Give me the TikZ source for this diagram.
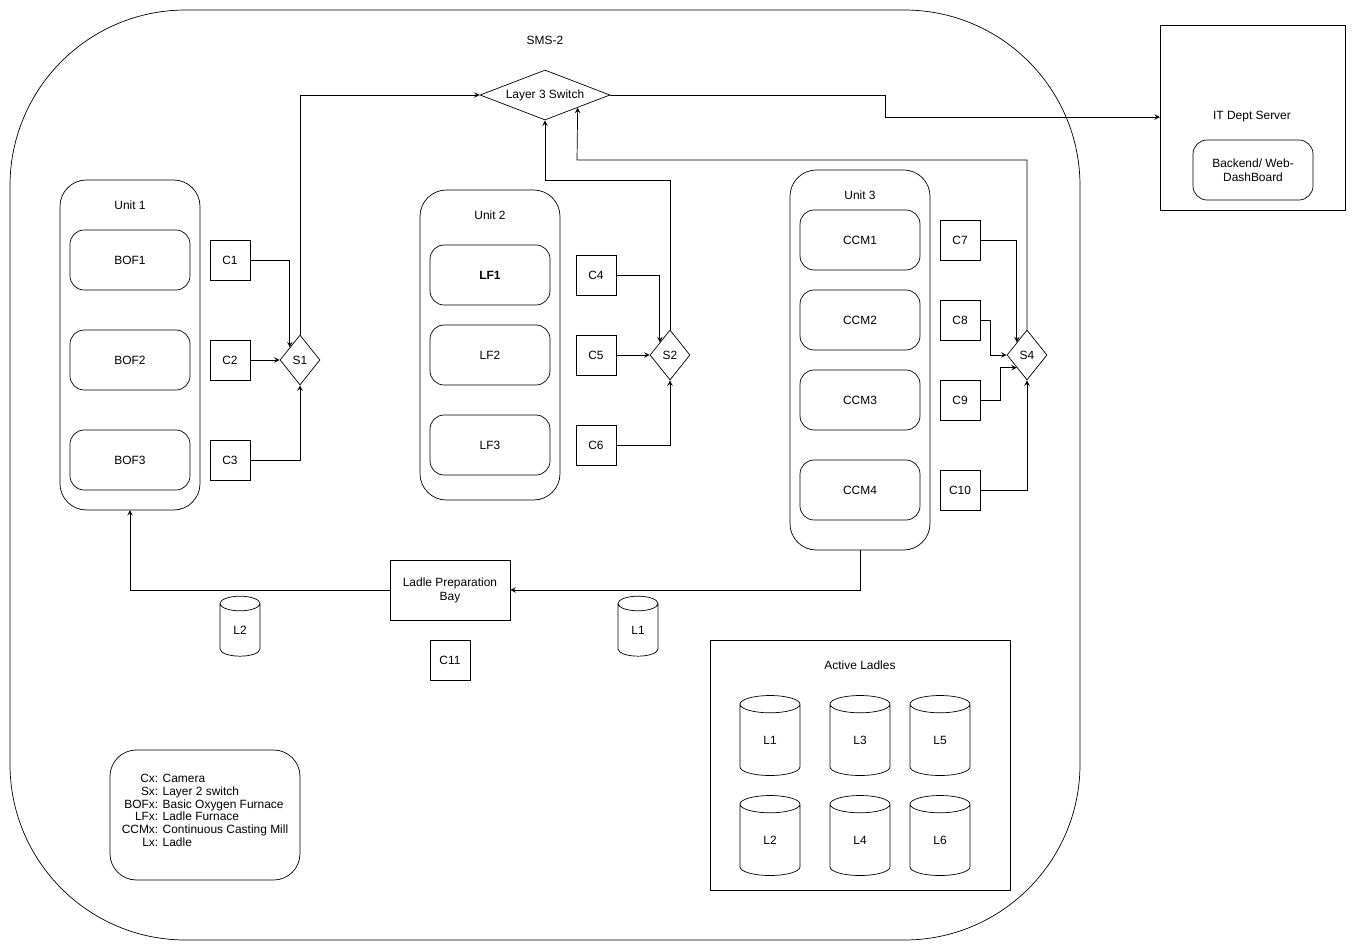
\documentclass[tikz,border=0pt]{standalone}
\usepackage{fontspec}
\setmainfont{Liberation Sans}
\usetikzlibrary{shapes.geometric}

\tikzset{
  box/.style={draw, rounded corners=8, minimum width=2.4cm, minimum height=1.2cm, align=center},
  cam/.style={draw, minimum width=0.8cm, minimum height=0.8cm},
  sw/.style={draw, diamond, minimum width=0.8cm, minimum height=1cm, inner sep=0pt},
  ladle/.style={draw, cylinder, shape border rotate=90, aspect=1.3, minimum width=1.2cm, minimum height=1.6cm, inner sep=0pt},
  ladles/.style={ladle, minimum width=0.8cm, minimum height=1.2cm, aspect=1.1},
  conn/.style={->, >=stealth},
}

\begin{document}
\begin{tikzpicture}[x=0.02cm, y=-0.02cm, font=\fontsize{6.8}{8}\selectfont]
\useasboundingbox (0,0) rectangle (1356,951);

% plant outline
\draw[rounded corners=100] (10,10) rectangle (1080,940);
\node at (545,40) {SMS-2};
\node[sw, minimum width=2.6cm, aspect=2.6] (L3S) at (545,95) {Layer 3 Switch};

% server
\draw (1160,25) rectangle (1345,210);
\node (server) at (1252,117) {IT Dept Server};
\coordinate (serverW) at (1160,117);
\node[box, minimum width=2.4cm] (backend) at (1253,170) {Backend/ Web-\\DashBoard};

% unit 1
\draw[rounded corners=15] (60,180) rectangle (200,510);
\coordinate (unit1S) at (130,510);
\node at (130,205) {Unit 1};
\node[box] (bof1) at (130,260) {BOF1};
\node[box] (bof2) at (130,360) {BOF2};
\node[box] (bof3) at (130,460) {BOF3};
\node[cam] (c1) at (230,260) {C1};
\node[cam] (c2) at (230,360) {C2};
\node[cam] (c3) at (230,460) {C3};
\node[sw] (s1) at (300,360) {S1};

% unit 2
\draw[rounded corners=15] (420,190) rectangle (560,500);
\node at (490,215) {Unit 2};
\node[box, font=\fontsize{6.8}{8}\selectfont\bfseries] (lf1) at (490,275) {LF1};
\node[box] (lf2) at (490,355) {LF2};
\node[box] (lf3) at (490,445) {LF3};
\node[cam] (c4) at (596,275) {C4};
\node[cam] (c5) at (596,355) {C5};
\node[cam] (c6) at (596,445) {C6};
\node[sw] (s2) at (670,355) {S2};

% unit 3
\draw[rounded corners=15] (790,170) rectangle (930,550);
\coordinate (unit3S) at (860,550);
\node at (860,195) {Unit 3};
\node[box] (ccm1) at (860,240) {CCM1};
\node[box] (ccm2) at (860,320) {CCM2};
\node[box] (ccm3) at (860,400) {CCM3};
\node[box] (ccm4) at (860,490) {CCM4};
\node[cam] (c7) at (960,240) {C7};
\node[cam] (c8) at (960,320) {C8};
\node[cam] (c9) at (960,400) {C9};
\node[cam] (c10) at (960,490) {C10};
\node[sw] (s4) at (1027,355) {S4};

% ladle bay
\node[draw, minimum width=2.4cm, minimum height=1.2cm, align=center] (bay) at (450,590) {Ladle Preparation\\Bay};
\node[cam] (c11) at (450,660) {C11};
\node[ladles] (l2a) at (240,630) {L2};
\node[ladles] (l1a) at (638,630) {L1};

% active ladles
\draw (710,640) rectangle (1010,890);
\node at (860,665) {Active Ladles};
\node[ladle] (l1) at (770,740) {L1};
\node[ladle] (l3) at (860,740) {L3};
\node[ladle] (l5) at (940,740) {L5};
\node[ladle] (l2) at (770,840) {L2};
\node[ladle] (l4) at (860,840) {L4};
\node[ladle] (l6) at (940,840) {L6};

% legend
\draw[rounded corners=15] (110,750) rectangle (300,880);
\node (legend) at (205,812) {\fontsize{6.8}{7.2}\selectfont\begin{tabular}{@{}r@{ }l@{}}
Cx: & Camera\\ Sx: & Layer 2 switch\\ BOFx: & Basic Oxygen Furnace\\
LFx: & Ladle Furnace\\ CCMx: & Continuous Casting Mill\\ Lx: & Ladle\end{tabular}};

% connections
\draw[conn] (c1.east) -| (s1.north west);
\draw[conn] (c2) -- (s1);
\draw[conn] (c3.east) -| (s1.south);
\draw[conn] (s1.north) |- (L3S.west);
\draw[conn] (c4.east) -| (s2.north west);
\draw[conn] (c5) -- (s2);
\draw[conn] (c6.east) -| (s2.south);
\draw[conn] (s2.north) |- (545,180) -- (L3S.south);
\draw[conn] (c7.east) -| (s4.north west);
\draw[conn] (c8.east) -- (990,320) |- (s4.west);
\draw[conn] (c9.east) -- (1000,400) |- (s4.south west);
\draw[conn] (c10.east) -| (s4.south);
\draw[conn] (s4.north) |- (577,160) -- (L3S.south east);
\draw[conn] (L3S.east) -- (885,95) |- (serverW);
\draw[conn] (unit3S) |- (bay.east);
\draw[conn] (bay.west) -| (unit1S);
\end{tikzpicture}
\end{document}
